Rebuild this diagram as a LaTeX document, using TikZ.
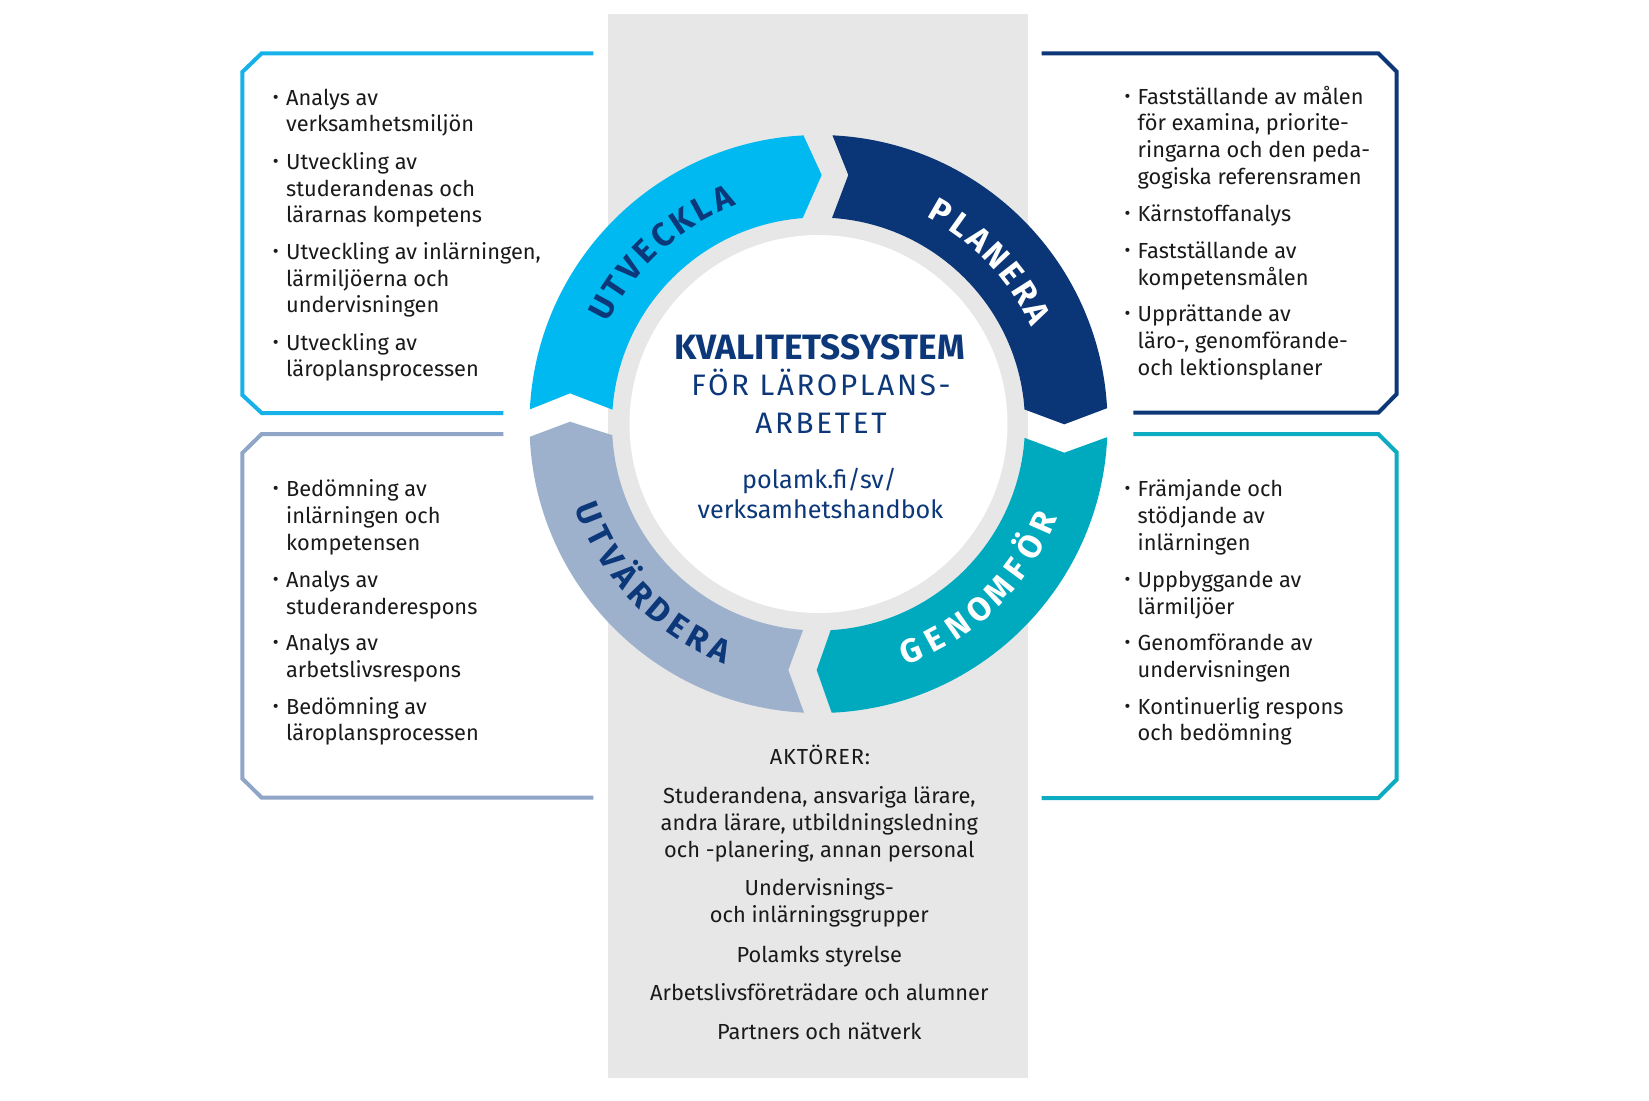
\documentclass[tikz,border=0pt]{standalone}
\usepackage{fontspec}
\setmainfont{Fira Sans}
\usetikzlibrary{calc}
\definecolor{cUtv}{RGB}{0,185,240}
\definecolor{cPlan}{RGB}{10,54,120}
\definecolor{cGen}{RGB}{0,170,190}
\definecolor{cUtvd}{RGB}{157,177,205}
\definecolor{cCol}{RGB}{231,231,231}
\definecolor{cText}{RGB}{26,26,26}
\definecolor{cNavy}{RGB}{12,56,122}
\definecolor{cBoxTL}{RGB}{20,178,232}
\definecolor{cBoxTR}{RGB}{14,55,120}
\definecolor{cBoxBL}{RGB}{143,166,200}
\definecolor{cBoxBR}{RGB}{14,172,192}
\begin{document}
\begin{tikzpicture}[x=0.5pt,y=0.5pt,
  body/.style={anchor=base west, inner sep=0pt, font=\fontsize{10.9pt}{13pt}\selectfont, text=cText},
  bul/.style={anchor=base west, inner sep=0pt, font=\fontsize{9pt}{10pt}\selectfont, text=cText},
  ctr/.style={anchor=base, inner sep=0pt, font=\fontsize{10.9pt}{13pt}\selectfont, text=cText},
  ringlet/.style={anchor=base, inner sep=0pt, font=\fontsize{16.5pt}{16.5pt}\selectfont\bfseries},
  boxline/.style={line width=2pt, line join=miter}
]
\useasboundingbox (0,0) rectangle (1649,-1100);
\fill[white] (0,0) rectangle (1649,-1100);
\fill[cCol] (608.3,-14) rectangle (1027.7,-1077.7);
\coordinate (C) at (818.5,-424);
\fill[white] (C) circle[radius=189];

% ring segments
\begin{scope}
\clip (640,-420.2) -- (570,-393.3) -- (480,-429.3) -- (480,-80) -- (787.2,-100) -- (821.7,-175) -- (788.6,-250) -- cycle;
\fill[cUtv, even odd rule] (C) circle[radius=289] (C) circle[radius=206.5];
\end{scope}
\begin{scope}
\clip (819.9,-250) -- (848.3,-175) -- (818.3,-100) -- (1150,-80) -- (1150,-392) -- (1064.3,-424.3) -- (1000,-400.3) -- cycle;
\fill[cPlan, even odd rule] (C) circle[radius=289] (C) circle[radius=206.5];
\end{scope}
\begin{scope}
\clip (1000,-428.7) -- (1064.3,-452.7) -- (1150,-421.6) -- (1150,-770) -- (844.8,-750) -- (816.7,-670) -- (841.3,-600) -- cycle;
\fill[cGen, even odd rule] (C) circle[radius=289] (C) circle[radius=206.5];
\end{scope}
\begin{scope}
\clip (814.1,-600) -- (788.3,-670) -- (817.8,-750) -- (480,-770) -- (480,-455.5) -- (570,-421.7) -- (640,-444) -- cycle;
\fill[cUtvd, even odd rule] (C) circle[radius=289] (C) circle[radius=206.5];
\end{scope}

% ring labels
\foreach \ch [count=\k from 0] in {U,T,V,E,C,K,L,A} {
  \pgfmathsetmacro\ang{151.7-5.53*\k}
  \node[ringlet, text=cNavy, rotate=\ang-90] (ua\k) at ($(C)+(\ang:233.5)$) {\ch};
}
\foreach \ch [count=\k from 0] in {P,L,A,N,E,R,A} {
  \pgfmathsetmacro\ang{60.0-5.52*\k}
  \node[ringlet, text=white, rotate=\ang-90] (pl\k) at ($(C)+(\ang:233.5)$) {\ch};
}
\foreach \ch [count=\k from 0] in {G,E,N,O,M,F,Ö,R} {
  \pgfmathsetmacro\ang{-67.9+6.3*\k}
  \node[ringlet, text=white, rotate=\ang+90] (ge\k) at ($(C)+(\ang:256.5)$) {\ch};
}
\foreach \ch [count=\k from 0] in {U,T,V,Ä,R,D,E,R,A} {
  \pgfmathsetmacro\ang{201.4+5.625*\k}
  \node[ringlet, text=cNavy, rotate=\ang+90] (uv\k) at ($(C)+(\ang:257.5)$) {\ch};
}

% centre text
\node[anchor=base, inner sep=0pt, font=\fontsize{17.6pt}{18pt}\selectfont\bfseries, text=cNavy] (title) at (819.5,-359) {KVALITETSSYSTEM};
\node[anchor=base, inner sep=0pt, font=\fontsize{14.8pt}{18pt}\selectfont\addfontfeature{LetterSpace=9}, text=cNavy] (sub1) at (821,-395.5) {FÖR LÄROPLANS-};
\node[anchor=base, inner sep=0pt, font=\fontsize{14.8pt}{18pt}\selectfont\addfontfeature{LetterSpace=9}, text=cNavy] (sub2) at (821,-433) {ARBETET};
\node[anchor=base, inner sep=0pt, font=\fontsize{12.6pt}{14pt}\selectfont, text=cNavy] (url1) at (819.5,-488) {polamk.fi/sv/};
\node[anchor=base, inner sep=0pt, font=\fontsize{12.6pt}{14pt}\selectfont, text=cNavy] (url2) at (820.5,-518.8) {verksamhetshandbok};

% boxes
\draw[boxline, cBoxTL] (593.3,-53.3) -- (261.7,-53.3) -- (242.3,-72) -- (242.3,-395) -- (261.7,-413) -- (503.3,-413);
\draw[boxline, cBoxBL] (503.3,-434) -- (261.7,-434) -- (242.3,-453) -- (242.3,-778.5) -- (261.7,-797.7) -- (593.3,-797.7);
\draw[boxline, cBoxTR] (1041.7,-53.3) -- (1378.3,-53.3) -- (1396.7,-71.7) -- (1396.7,-394) -- (1378.3,-412.7) -- (1133.3,-412.7);
\draw[boxline, cBoxBR] (1133.3,-434) -- (1378.3,-434) -- (1396.7,-452.5) -- (1396.7,-779.5) -- (1378.3,-798) -- (1041.7,-798);

% top-left list
\foreach \t/\y [count=\k] in {{Analys av}/105, {verksamhetsmiljön}/131.7, {Utveckling av}/169.3, {studerandenas och}/196, {lärarnas kompetens}/222.7, {Utveckling av inlärningen,}/259.3, {lärmiljöerna och}/286, {undervisningen}/312.7, {Utveckling av}/350, {läroplansprocessen}/376.7}
  {\node[body] (tl\k) at (285.7,-\y) {\t};}
\foreach \y [count=\k] in {105,169.3,259.3,350}
  {\node[bul] (tlb\k) at (272.5,-\y+2) {•};}

% top-right list
\foreach \t/\y [count=\k] in {{Fastställande av målen}/104, {för examina, priorite-}/130.7, {ringarna och den peda-}/157.3, {gogiska referensramen}/184, {Kärnstoffanalys}/221.7, {Fastställande av}/258.3, {kompetensmålen}/285, {Upprättande av}/321.7, {läro-, genomförande-}/348.3, {och lektionsplaner}/375}
  {\node[body] (tr\k) at (1137.3,-\y) {\t};}
\foreach \y [count=\k] in {104,221.7,258.3,321.7}
  {\node[bul] (trb\k) at (1124.2,-\y+2) {•};}

% bottom-left list
\foreach \t/\y [count=\k] in {{Bedömning av}/496.7, {inlärningen och}/523.3, {kompetensen}/550, {Analys av}/587.3, {studeranderespons}/614, {Analys av}/650.7, {arbetslivsrespons}/677.3, {Bedömning av}/714, {läroplansprocessen}/740.7}
  {\node[body] (bl\k) at (285.7,-\y) {\t};}
\foreach \y [count=\k] in {496.7,587.3,650.7,714}
  {\node[bul] (blb\k) at (272.5,-\y+2) {•};}

% bottom-right list
\foreach \t/\y [count=\k] in {{Främjande och}/496.7, {stödjande av}/523.3, {inlärningen}/550, {Uppbyggande av}/587.3, {lärmiljöer}/614, {Genomförande av}/650.7, {undervisningen}/677.3, {Kontinuerlig respons}/714, {och bedömning}/740.7}
  {\node[body] (br\k) at (1137.3,-\y) {\t};}
\foreach \y [count=\k] in {496.7,587.3,650.7,714}
  {\node[bul] (brb\k) at (1124.2,-\y+2) {•};}

% actors
\node[ctr, font=\fontsize{10.9pt}{13pt}\selectfont\addfontfeature{LetterSpace=4}] (akt) at (820,-764.3) {AKTÖRER:};
\foreach \t/\y [count=\k] in {{Studerandena, ansvariga lärare,}/803.3, {andra lärare, utbildningsledning}/830, {och -planering, annan personal}/857.3, {Undervisnings-}/895.7, {och inlärningsgrupper}/922.3, {Polamks styrelse}/962.3, {Arbetslivsföreträdare och alumner}/1000.7, {Partners och nätverk}/1039}
  {\node[ctr] (ac\k) at (819.3,-\y) {\t};}
\end{tikzpicture}
\end{document}
